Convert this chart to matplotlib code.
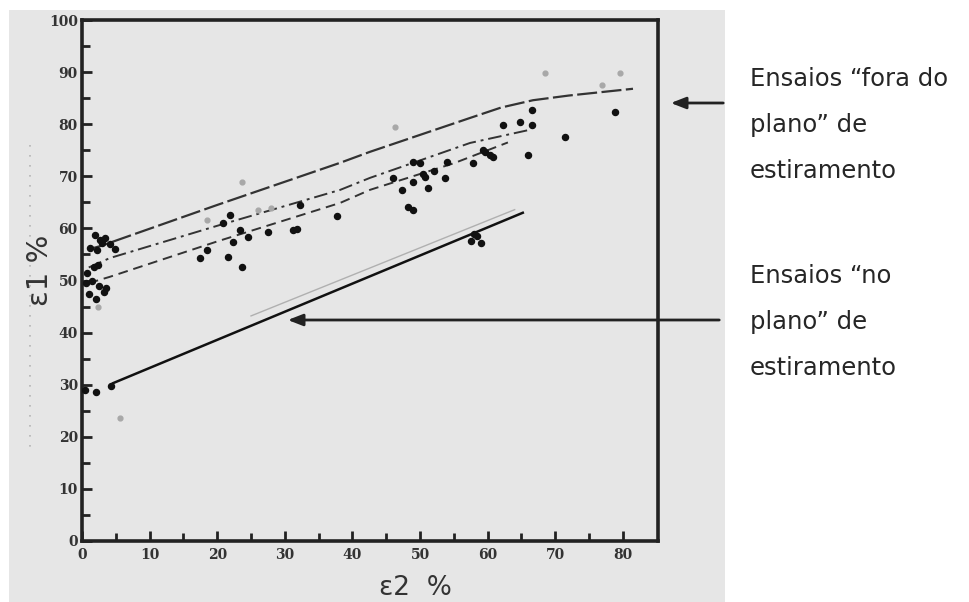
import matplotlib.pyplot as plt
import numpy as np
from matplotlib.patches import Rectangle
from matplotlib.lines import Line2D

# curves (e2 %, e1 %)
upper_x = [1, 2.7, 20, 38.2, 42.6, 57.4, 62, 66.7, 72, 81.5]
upper_y = [56, 56.6, 64.5, 72.6, 74.7, 81.2, 83.2, 84.6, 85.5, 86.8]
middle_x = [1, 4.1, 20, 38.2, 42.6, 57.4, 66.5]
middle_y = [52.5, 54.3, 60.5, 67.4, 69.7, 76.4, 79.0]
lower_x = [1, 4.1, 20, 38.2, 42.6, 55, 63]
lower_y = [49.5, 50.7, 57.5, 64.9, 67.4, 72.5, 76.5]
inplane_x = [4.6, 65.2]
inplane_y = [30.3, 63.0]
faint_x = [25, 64]
faint_y = [43.2, 63.6]

# solid points
pts_x = [1.9, 2.7, 3.4, 4.1, 4.9, 1.2, 2.2, 3.0, 0.8, 1.5, 2.5, 3.5, 1.0, 2.0, 3.2, 1.8, 2.4, 0.6,
         21.9, 20.9, 23.4, 24.6, 22.3, 27.5, 31.2, 31.8, 32.2, 18.5, 17.5, 21.6, 23.7, 37.7,
         49.0, 50.0, 50.7, 49.0, 51.2, 47.3, 53.7, 48.2, 48.9, 57.8, 59.6, 60.8, 54.0, 62.3,
         66.6, 66.6, 64.8, 71.4, 66.0, 78.8, 59.3, 60.4, 46.0, 52.0, 50.5,
         57.5, 58.5, 59.0, 58.0, 0.5, 2.0, 4.3]
pts_y = [58.7, 57.8, 58.2, 57.0, 56.0, 56.3, 55.8, 57.2, 51.5, 50.0, 49.0, 48.5, 47.5, 46.5, 47.8,
         52.5, 53.0, 49.5,
         62.6, 61.0, 59.7, 58.3, 57.4, 59.3, 59.7, 59.9, 64.5, 55.9, 54.3, 54.5, 52.6, 62.4,
         72.7, 72.5, 69.9, 68.9, 67.8, 67.4, 69.7, 64.1, 63.6, 72.5, 74.7, 73.7, 72.7, 79.8,
         82.7, 79.8, 80.4, 77.5, 74.1, 82.3, 75.0, 74.1, 69.7, 71.0, 70.5,
         57.5, 58.5, 57.2, 59.0, 29.0, 28.6, 29.7]
# faint grey points
grey_x = [68.5, 79.6, 76.9, 46.3, 23.7, 18.5, 5.6, 2.4, 26.0, 28.0]
grey_y = [89.8, 89.8, 87.5, 79.5, 68.9, 61.6, 23.6, 44.9, 63.5, 63.9]

x_ticks = np.arange(0, 81, 10)
y_ticks = np.arange(0, 101, 10)

W, H = 970, 602
fig = plt.figure(figsize=(W / 100, H / 100), dpi=100)
fig.patch.set_facecolor("white")
# grey scanned panel
fig.patches.append(Rectangle((9 / W, 0), (725 - 9) / W, (602 - 10) / H,
                             transform=fig.transFigure, facecolor="#e6e6e6",
                             edgecolor="none", zorder=-5))

ax = fig.add_axes([82 / W, (602 - 541) / H, (658 - 82) / W, (541 - 20) / H])
ax.set_zorder(2)
ax.set_facecolor("#e6e6e6")
ax.set_xlim(0, 85.2)
ax.set_ylim(0, 100)

ax.plot(upper_x, upper_y, color="#333333", lw=1.6, linestyle=(0, (9, 2)))
ax.plot(middle_x, middle_y, color="#333333", lw=1.4, linestyle=(0, (7, 2.5, 1.5, 2.5)))
ax.plot(lower_x, lower_y, color="#333333", lw=1.4, linestyle=(0, (5, 3)))
ax.plot(faint_x, faint_y, color="#b0b0b0", lw=1.0)
ax.plot(inplane_x, inplane_y, color="#111111", lw=1.8)

ax.scatter(grey_x, grey_y, s=12, color="#a8a8a8", zorder=3)
ax.scatter(pts_x, pts_y, s=19, color="#111111", zorder=4)

for s in ax.spines.values():
    s.set_linewidth(2.6)
    s.set_color("#222222")

ax.set_xticks(x_ticks)
ax.set_yticks(y_ticks)
ax.set_xticks(np.arange(5, 85, 10), minor=True)
ax.set_yticks(np.arange(5, 100, 10), minor=True)
ax.tick_params(which="both", direction="in", width=2, color="#222222")
ax.tick_params(which="major", length=7)
ax.tick_params(which="minor", length=6)
ax.tick_params(axis="x", labelsize=10, pad=5, labelcolor="#333333")
ax.tick_params(axis="y", labelsize=10, pad=3, labelcolor="#333333")
for lab in ax.get_xticklabels() + ax.get_yticklabels():
    lab.set_fontfamily("DejaVu Serif")
    lab.set_fontweight("bold")

fig.text(415 / W, 1 - 588 / H, "ε2  %", ha="center", va="center",
         fontsize=19, color="#333333", family="DejaVu Sans")
fig.text(40 / W, 1 - 270 / H, "ε1 %", ha="center", va="center", rotation=90,
         fontsize=21, color="#333333", family="DejaVu Sans")

# faint dotted scan mark left of the axis
fig.add_artist(Line2D([30 / W, 30 / W], [1 - 145 / H, 1 - 450 / H],
                      transform=fig.transFigure, color="#b5b5b5", lw=1.2,
                      linestyle=(0, (1, 5))))

arrow = dict(arrowstyle="-|>,head_length=0.9,head_width=0.35", color="#222222", lw=2)
fig.add_artist(plt.Annotation("", xy=(668 / W, 1 - 103 / H), xycoords="figure fraction",
                              xytext=(726 / W, 1 - 103 / H), textcoords="figure fraction",
                              arrowprops=arrow, zorder=5))
fig.add_artist(plt.Annotation("", xy=(285 / W, 1 - 320 / H), xycoords="figure fraction",
                              xytext=(722 / W, 1 - 320 / H), textcoords="figure fraction",
                              arrowprops=arrow, zorder=5))

txt = dict(fontsize=17.5, color="#262626", family="DejaVu Sans", ha="left", va="baseline",
           linespacing=2.15)
fig.text(750 / W, 1 - 178 / H, "Ensaios “fora do\nplano” de\nestiramento", **txt)
fig.text(750 / W, 1 - 375 / H, "Ensaios “no\nplano” de\nestiramento", **txt)

fig.savefig("out.png", dpi=100)
